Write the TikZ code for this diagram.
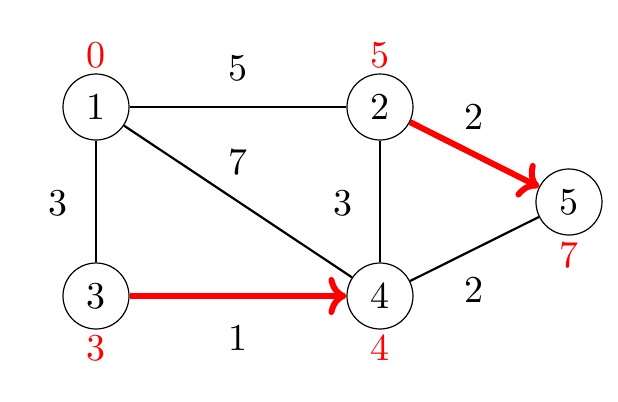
\documentclass[tikz,border=0pt]{standalone}
\usepackage{fontspec}
\usetikzlibrary{arrows.meta}
\newfontfamily\tenfont{lmroman10-regular.otf}
\begin{document}
\begin{tikzpicture}[x=0.5pt,y=-0.5pt,
  vtx/.style={circle,draw,line width=0.6pt,minimum size=33pt,inner sep=0pt,font=\tenfont\fontsize{19}{22}\selectfont},
  lbl/.style={font=\tenfont\fontsize{19}{22}\selectfont},
  dist/.style={font=\tenfont\fontsize{19}{22}\selectfont,text=red},
  edge/.style={line width=1.1pt},
  path/.style={line width=3pt,red,-{Computer Modern Rightarrow[length=9pt,width=19pt]}}]
\useasboundingbox (0,0) rectangle (618,402);
\node[vtx] (n1) at (96,107) {1};
\node[vtx] (n2) at (380,107) {2};
\node[vtx] (n3) at (96,296) {3};
\node[vtx] (n4) at (380,296) {4};
\node[vtx] (n5) at (569,202) {5};
\draw[edge] (n1) -- (n2);
\draw[edge] (n1) -- (n3);
\draw[edge] (n1) -- (n4);
\draw[edge] (n2) -- (n4);
\draw[edge] (n4) -- (n5);
\draw[path] (n2) -- (n5);
\draw[path] (n3) -- (n4);
\node[lbl] (w12) at (238,68) {5};
\node[lbl] (w25) at (474,117) {2};
\node[lbl] (w14) at (238,162) {7};
\node[lbl] (w13) at (58,203) {3};
\node[lbl] (w24) at (343,203) {3};
\node[lbl] (w34) at (238,338) {1};
\node[lbl] (w45) at (474,290) {2};
\node[dist] (d1) at (96,55) {0};
\node[dist] (d2) at (380,55) {5};
\node[dist] (d3) at (96,348) {3};
\node[dist] (d4) at (380,348) {4};
\node[dist] (d5) at (569,255) {7};
\end{tikzpicture}
\end{document}
